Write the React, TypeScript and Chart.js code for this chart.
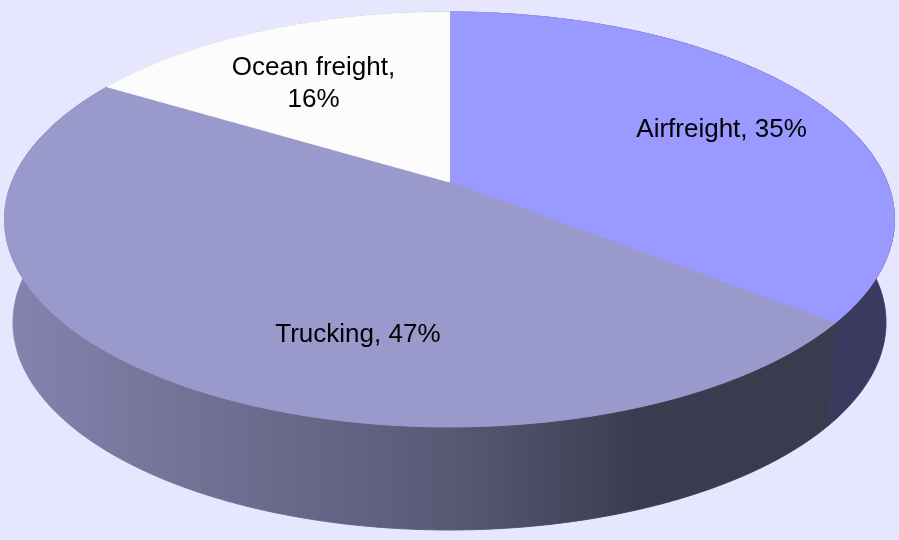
import React, { useEffect, useRef } from 'react';
import { Chart, registerables } from 'chart.js';

Chart.register(...registerables);

// ---- data ----
const categories = ['Airfreight', 'Trucking', 'Ocean freight'];
const shares = [35, 47, 16];
const sliceColors = ['#9999FF', '#9999CC', '#FCFCFC'];

// ---- view / styling (not data) ----
const VIEW = {
  apexY: 182,
  radiusX: 437.6,
  radiusY: 200.7,
  tilt: 0.1807,
  depth: 103,
  bottomScale: 0.981,
};
const LABEL_SPOTS = [
  { t: 0.518, r: 0.712 },
  { t: 0.388, r: 0.687 },
  { t: 0.456, r: 0.645 },
];
const WALL_SHADE: [number, number][] = [
  [0, 0.86],
  [0.5, 0.58],
  [0.71, 0.39],
  [1, 0.38],
];
const BG = '#E6E6FF';
const FONT_SIZE = 26;
const FONT = `${FONT_SIZE}px "Liberation Sans", Arial, sans-serif`;
const LINE_H = 32;
const WRAP_W = 200;

function hexToRgb(hex: string): number[] {
  const h = hex.replace('#', '');
  return [0, 2, 4].map((i) => parseInt(h.slice(i, i + 2), 16));
}

function makeProjector(chart: any) {
  const area = chart.chartArea;
  const cx = (area.left + area.right) / 2;
  const proj = (a: number, r = 1): [number, number] => {
    const X = r * Math.cos(a);
    const Y = -r * Math.sin(a);
    const w = 1 + VIEW.tilt * Y;
    return [cx + (VIEW.radiusX * X) / w, VIEW.apexY - (VIEW.radiusY * Y) / w];
  };
  const lower = (p: [number, number]): [number, number] => [
    cx + (p[0] - cx) * VIEW.bottomScale,
    p[1] + VIEW.depth,
  ];
  const arcPts = (a0: number, a1: number) => {
    const n = Math.max(2, Math.ceil(Math.abs(a1 - a0) / 0.005));
    const pts: [number, number][] = [];
    for (let i = 0; i <= n; i++) pts.push(proj(a0 + ((a1 - a0) * i) / n));
    return pts;
  };
  return { cx, proj, lower, arcPts };
}

const pie3d = {
  id: 'pie3d',
  beforeDraw(chart: any) {
    const ctx = chart.ctx;
    ctx.save();
    ctx.fillStyle = BG;
    ctx.fillRect(0, 0, chart.width, chart.height);
    ctx.restore();
  },
  beforeDatasetsDraw(chart: any) {
    const ctx = chart.ctx;
    const meta = chart.getDatasetMeta(0);
    const colors = chart.data.datasets[0].backgroundColor as string[];
    const { cx, proj, lower, arcPts } = makeProjector(chart);
    const leftX = cx - VIEW.radiusX * 1.02;
    const rightX = cx + VIEW.radiusX * 1.02;
    ctx.save();
    // side walls
    meta.data.forEach((el: any, i: number) => {
      const top = arcPts(el.startAngle, el.endAngle);
      const bot = top.map(lower);
      const [r, g, b] = hexToRgb(colors[i]);
      const grad = ctx.createLinearGradient(leftX, 0, rightX, 0);
      WALL_SHADE.forEach(([s, f]) => {
        grad.addColorStop(s, `rgb(${Math.round(r * f)},${Math.round(g * f)},${Math.round(b * f)})`);
      });
      ctx.beginPath();
      top.forEach((p, j) => (j ? ctx.lineTo(p[0], p[1]) : ctx.moveTo(p[0], p[1])));
      for (let j = bot.length - 1; j >= 0; j--) ctx.lineTo(bot[j][0], bot[j][1]);
      ctx.closePath();
      ctx.fillStyle = grad;
      ctx.strokeStyle = grad;
      ctx.lineWidth = 1;
      ctx.fill();
      ctx.stroke();
    });
    // top faces
    meta.data.forEach((el: any, i: number) => {
      const top = arcPts(el.startAngle, el.endAngle);
      ctx.beginPath();
      ctx.moveTo(cx, VIEW.apexY);
      top.forEach((p) => ctx.lineTo(p[0], p[1]));
      ctx.closePath();
      ctx.fillStyle = colors[i];
      ctx.strokeStyle = colors[i];
      ctx.lineWidth = 1;
      ctx.fill();
      ctx.stroke();
    });
    ctx.restore();
    return false;
  },
  afterDraw(chart: any) {
    const ctx = chart.ctx;
    const meta = chart.getDatasetMeta(0);
    const { proj } = makeProjector(chart);
    const values = chart.data.datasets[0].data as number[];
    const names = chart.data.labels as string[];
    ctx.save();
    ctx.font = FONT;
    ctx.fillStyle = '#000000';
    ctx.textAlign = 'center';
    ctx.textBaseline = 'alphabetic';
    const capH = FONT_SIZE * 0.716;
    meta.data.forEach((el: any, i: number) => {
      const spot = LABEL_SPOTS[i];
      const a = el.startAngle + (el.endAngle - el.startAngle) * spot.t;
      const [x, y] = proj(a, spot.r);
      const full = `${names[i]}, ${values[i]}%`;
      let lines = [full];
      if (ctx.measureText(full).width > WRAP_W) {
        lines = [`${names[i]},`, `${values[i]}%`];
      }
      const first = y - ((lines.length - 1) * LINE_H) / 2 + capH / 2;
      lines.forEach((ln, j) => ctx.fillText(ln, x, first + j * LINE_H));
    });
    ctx.restore();
  },
};

export default function App() {
  const canvasRef = useRef<HTMLCanvasElement | null>(null);

  useEffect(() => {
    if (!canvasRef.current) return;
    const chart = new Chart(canvasRef.current, {
      type: 'pie',
      data: {
        labels: categories,
        datasets: [
          {
            data: shares,
            backgroundColor: sliceColors,
            borderWidth: 0,
          },
        ],
      },
      options: {
        responsive: true,
        maintainAspectRatio: false,
        animation: false,
        events: [],
        layout: { padding: 0 },
        plugins: {
          legend: { display: false },
          tooltip: { enabled: false },
        },
      },
      plugins: [pie3d],
    });
    return () => chart.destroy();
  }, []);

  return (
    <div style={{ position: 'absolute', left: 0, top: 0, width: 899, height: 540, background: BG }}>
      <canvas ref={canvasRef} />
    </div>
  );
}
